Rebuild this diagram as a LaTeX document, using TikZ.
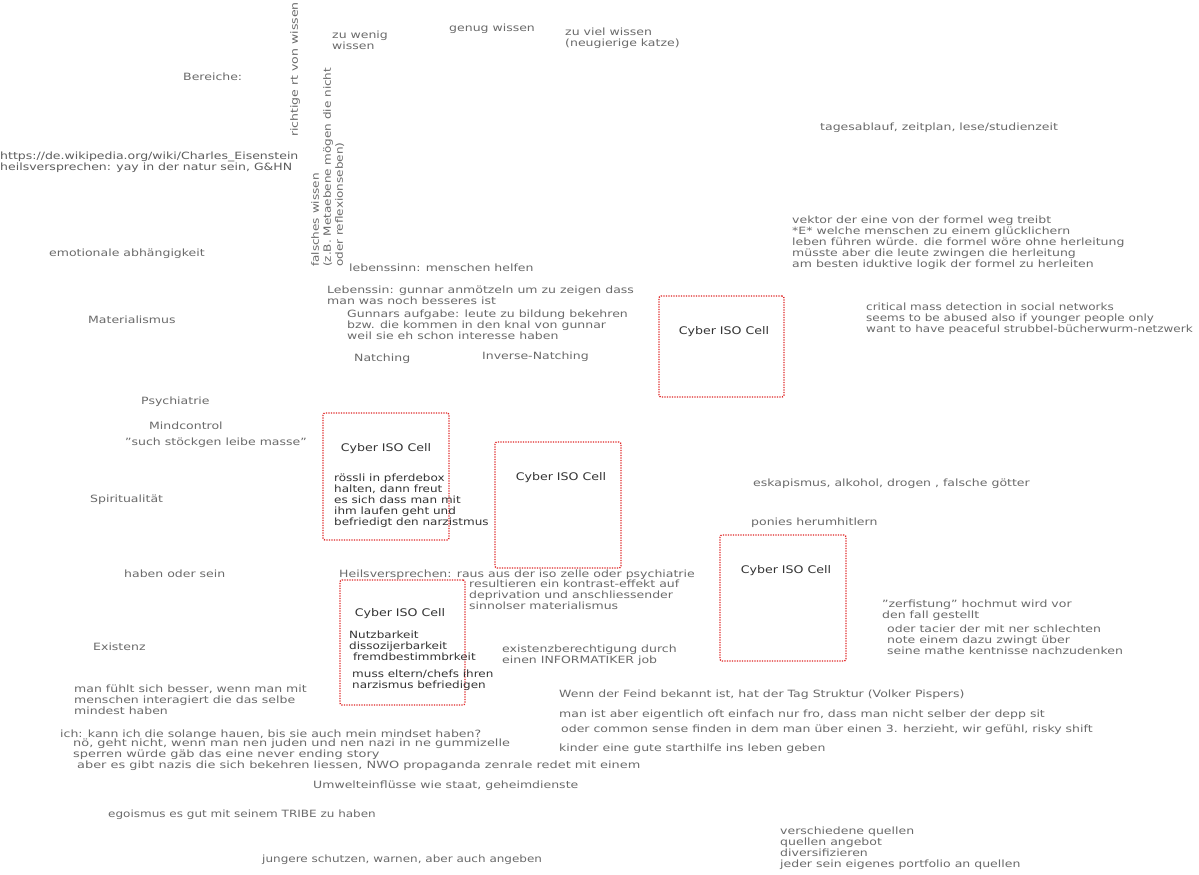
\documentclass[tikz,border=0pt]{standalone}
\usepackage{fontspec}
\setmainfont[FakeStretch=1.25]{DejaVu Sans}
\newfontfamily\narrowfont[FakeStretch=1.2]{DejaVu Sans}
\newfontfamily\widefont[FakeStretch=1.29]{DejaVu Sans}
\definecolor{textgray}{HTML}{6A6A6A}
\definecolor{textdark}{HTML}{333333}
\definecolor{cellred}{HTML}{E02424}
\begin{document}
\begin{tikzpicture}[x=1pt,y=-1pt,
  txt/.style={anchor=north west, inner sep=0pt, align=left, text=textgray,
    font=\fontsize{10}{11}\selectfont, execute at begin node=\strut},
  ntxt/.style={txt, font=\narrowfont\fontsize{10}{11}\selectfont},
  wtxt/.style={txt, font=\widefont\fontsize{10}{11}\selectfont},
  dark/.style={ntxt, text=textdark},
  cell/.style={draw=cellred, dash pattern=on 1.2pt off 1.3pt, line width=1.3pt,
    rounded corners=2pt, inner sep=0pt},
  celltitle/.style={inner sep=0pt, text=textdark, font=\narrowfont\fontsize{10.5}{12}\selectfont},
]
\useasboundingbox[fill=white] (0,0) rectangle (1199,875);

% isolation cells
\node[cell, minimum width=125pt, minimum height=101pt] (cellA) at (721.5,346.5) {};
\node[cell, minimum width=126pt, minimum height=127pt] (cellB) at (386,476.5) {};
\node[cell, minimum width=126pt, minimum height=126pt] (cellC) at (558,505) {};
\node[cell, minimum width=126pt, minimum height=126pt] (cellD) at (783,598) {};
\node[cell, minimum width=125pt, minimum height=125pt] (cellE) at (402.5,642.5) {};

\node[celltitle] (tA) at (724,332) {Cyber ISO Cell};
\node[celltitle] (tB) at (386,449) {Cyber ISO Cell};
\node[celltitle] (tC) at (561,478) {Cyber ISO Cell};
\node[celltitle] (tD) at (786,571) {Cyber ISO Cell};
\node[celltitle] (tE) at (400,614) {Cyber ISO Cell};

% texts inside the cells
\node[dark] (roessli) at (334,474) {rössli in pferdebox\\halten, dann freut\\es sich dass man mit\\ihm laufen geht und\\befriedigt den narzistmus};
\node[dark] (nutz) at (349,631) {Nutzbarkeit\\dissozijerbarkeit\\\ fremdbestimmbrkeit};
\node[dark] (muss) at (352,670) {muss eltern/chefs ihren\\narzismus befriedigen};

% top area
\node[txt] (bereiche) at (183,73) {Bereiche:};
\node[txt, text=textdark!80] (wiki) at (0,152) {https://de.wikipedia.org/wiki/Charles\_Eisenstein\\heilsversprechen: yay in der natur sein, G\&HN};
\node[txt, rotate=90] (richtig) at (290,137) {richtige rt von wissen};
\node[ntxt, rotate=90, font=\narrowfont\fontsize{10}{12}\selectfont] (falsch) at (311,267) {falsches wissen\\(z.B. Metaebene mögen die nicht\\oder reflexionseben)};
\node[txt] (wenig) at (332,31) {zu wenig\\wissen};
\node[txt] (genug) at (449,24) {genug wissen};
\node[txt] (viel) at (565,28) {zu viel wissen\\(neugierige katze)};
\node[txt] (tag) at (820,123) {tagesablauf, zeitplan, lese/studienzeit};
\node[txt] (vektor) at (792,216) {vektor der eine von der formel weg treibt\\*E* welche menschen zu einem glücklichern\\leben führen würde. die formel wöre ohne herleitung\\müsste aber die leute zwingen die herleitung\\am besten iduktive logik der formel zu herleiten};

% middle column
\node[txt] (emo) at (49,249) {emotionale abhängigkeit};
\node[txt] (sinn) at (349,264) {lebenssinn: menschen helfen};
\node[txt] (gunnar) at (327,286) {Lebenssin: gunnar anmötzeln um zu zeigen dass\\man was noch besseres ist};
\node[txt] (aufgabe) at (347,310) {Gunnars aufgabe: leute zu bildung bekehren\\bzw. die kommen in den knal von gunnar\\weil sie eh schon interesse haben};
\node[txt] (natch) at (354,354) {Natching};
\node[txt] (inatch) at (482,352) {Inverse-Natching};
\node[ntxt] (critical) at (866,303) {critical mass detection in social networks\\seems to be abused also if younger people only\\want to have peaceful strubbel-bücherwurm-netzwerk};

% left column
\node[txt] (mat) at (88,316) {Materialismus};
\node[txt] (psy) at (141,397) {Psychiatrie};
\node[txt] (mind) at (149,422) {Mindcontrol};
\node[txt] (such) at (125,438) {\symbol{34}such stöckgen leibe masse\symbol{34}};
\node[txt] (spirit) at (90,495) {Spiritualität};
\node[txt] (haben) at (124,570) {haben oder sein};
\node[txt] (exist) at (93,643) {Existenz};

% right side
\node[txt] (eskap) at (753,479) {eskapismus, alkohol, drogen , falsche götter};
\node[txt] (ponies) at (751,518) {ponies herumhitlern};
\node[txt] (zerf) at (882,600) {\symbol{34}zerfistung\symbol{34} hochmut wird vor\\den fall gestellt};
\node[txt] (tacier) at (887,625) {oder tacier der mit ner schlechten\\note einem dazu zwingt über\\seine mathe kentnisse nachzudenken};

% around the lower cells
\node[txt] (heils) at (339,570) {Heilsversprechen: raus aus der iso zelle oder psychiatrie};
\node[txt] (result) at (469,580) {resultieren ein kontrast-effekt auf\\deprivation und anschliessender\\sinnolser materialismus};
\node[txt] (inform) at (502,645) {existenzberechtigung durch\\einen INFORMATIKER job};

% bottom area
\node[txt] (fuehlt) at (74,685) {man fühlt sich besser, wenn man mit\\menschen interagiert die das selbe\\mindest haben};
\node[txt] (feind) at (559,690) {Wenn der Feind bekannt ist, hat der Tag Struktur (Volker Pispers)};
\node[txt] (froh) at (559,710) {man ist aber eigentlich oft einfach nur fro, dass man nicht selber der depp sit};
\node[txt] (common) at (561,725) {oder common sense finden in dem man über einen 3. herzieht, wir gefühl, risky shift};
\node[txt] (kinder) at (559,744) {kinder eine gute starthilfe ins leben geben};
\node[txt] (hauen) at (60,730) {ich: kann ich die solange hauen, bis sie auch mein mindset haben?};
\node[wtxt] (noe) at (73,739) {nö, geht nicht, wenn man nen juden und nen nazi in ne gummizelle\\sperren würde gäb das eine never ending story};
\node[wtxt] (nazis) at (77,761) {aber es gibt nazis die sich bekehren liessen, NWO propaganda zenrale redet mit einem};
\node[txt] (umwelt) at (313,781) {Umwelteinflüsse wie staat, geheimdienste};
\node[ntxt] (ego) at (108,810) {egoismus es gut mit seinem TRIBE zu haben};
\node[txt] (quellen) at (780,827) {verschiedene quellen\\quellen angebot\\diversifizieren\\jeder sein eigenes portfolio an quellen};
\node[ntxt] (jungere) at (262,855) {jungere schutzen, warnen, aber auch angeben};
\end{tikzpicture}
\end{document}
